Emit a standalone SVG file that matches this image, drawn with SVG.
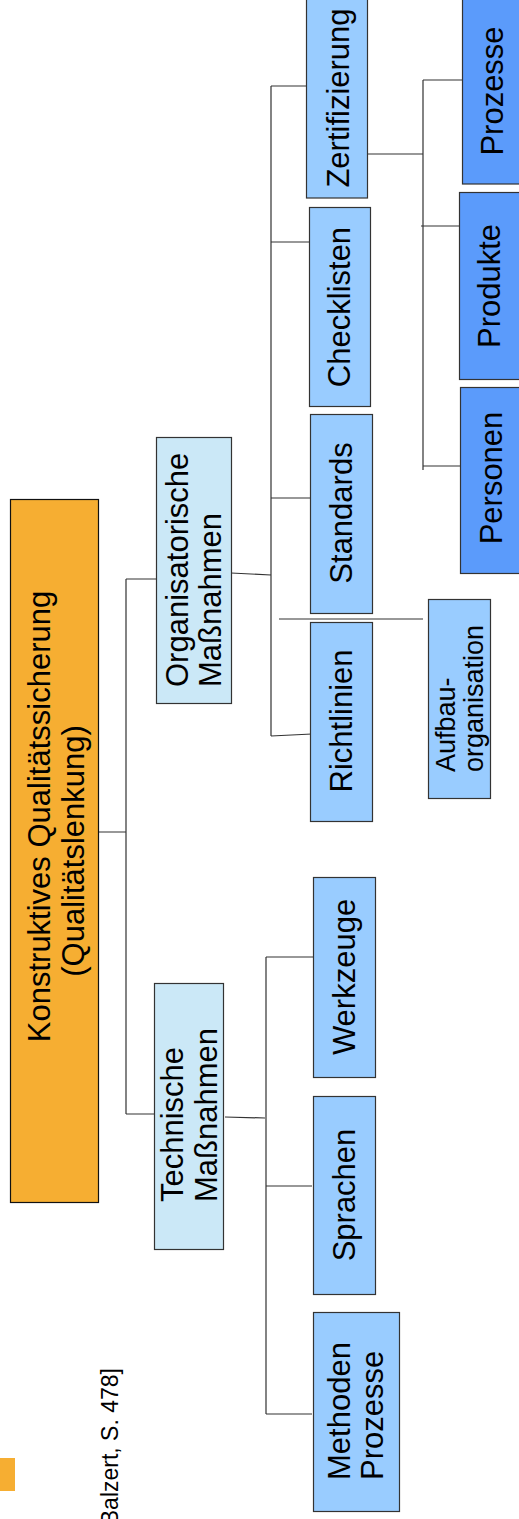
<svg xmlns="http://www.w3.org/2000/svg" width="519" height="1519" viewBox="0 0 519 1519">
<style>
.box{stroke:#333;stroke-width:1.2}
.root{fill:#F6AE32;stroke:#111;stroke-width:1.2}
.l2{fill:#CBE8F7}
.l3{fill:#99CCFF}
.l4{fill:#5B9BFB}
.t{font-family:"Liberation Sans",Arial,sans-serif;font-size:31px;fill:#000}
.s{font-size:27px}
.f{font-size:23px}
.m{text-anchor:middle}
.st{text-anchor:start}
.e{text-anchor:end}
.c{fill:none;stroke:#333;stroke-width:1.2}
</style>
<rect width="519" height="1519" fill="#fff"/>
<g id="connectors" class="c">
<path d="M83,832 H126 M126,579 V1114 M126,579 H156 M126,1114 H154"/>
<path d="M231,573 L271,575 M271,86 V736 M271,86 H306 M271,242 H309 M271,498 H310 M271,736 L312,734"/>
<path d="M279,619 H423"/>
<path d="M367,154 H423 M423,80 V470 M423,80 H462 M421,226 H459 M423,466 H460"/>
<path d="M225,1117 L265,1118 M266,957 V1414 M266,957 H313 M266,1186 H312 M266,1414 H312"/>
</g>
<g id="root">
<rect class="root" x="10.5" y="499.5" width="88" height="703"/>
<text class="t m" transform="translate(50,816.5) rotate(-90)">Konstruktives Qualitätssicherung</text>
<text class="t m" transform="translate(84,851) rotate(-90)">(Qualitätslenkung)</text>
</g>
<g id="org">
<rect class="box l2" x="156.5" y="437.5" width="75" height="266"/>
<text class="t st" transform="translate(188,687) rotate(-90)">Organisatorische</text>
<text class="t st" transform="translate(221,687) rotate(-90)">Maßnahmen</text>
</g>
<g id="tech">
<rect class="box l2" x="154.5" y="983.5" width="69" height="266"/>
<text class="t st" transform="translate(183,1202) rotate(-90)">Technische</text>
<text class="t st" transform="translate(217,1202) rotate(-90)">Maßnahmen</text>
</g>
<g id="zertifizierung">
<rect class="box l3" x="306.5" y="-2" width="61" height="200"/>
<text class="t m" transform="translate(349,98) rotate(-90)">Zertifizierung</text>
</g>
<g id="checklisten">
<rect class="box l3" x="309.5" y="207.5" width="61" height="199"/>
<text class="t m" transform="translate(350,307) rotate(-90)">Checklisten</text>
</g>
<g id="standards">
<rect class="box l3" x="310.5" y="414.5" width="62" height="199"/>
<text class="t m" transform="translate(352,513) rotate(-90)">Standards</text>
</g>
<g id="richtlinien">
<rect class="box l3" x="310.5" y="622.5" width="62" height="199"/>
<text class="t m" transform="translate(352,721) rotate(-90)">Richtlinien</text>
</g>
<g id="aufbauorganisation">
<rect class="box l3" x="428.5" y="599.5" width="62" height="199"/>
<text class="t s st" transform="translate(455,772) rotate(-90)">Aufbau-</text>
<text class="t s st" transform="translate(483,772) rotate(-90)">organisation</text>
</g>
<g id="prozesse">
<rect class="box l4" x="462.5" y="-2" width="60" height="186"/>
<text class="t m" transform="translate(503,91) rotate(-90)">Prozesse</text>
</g>
<g id="produkte">
<rect class="box l4" x="459.5" y="192.5" width="62" height="187"/>
<text class="t m" transform="translate(500,286) rotate(-90)">Produkte</text>
</g>
<g id="personen">
<rect class="box l4" x="460.5" y="387.5" width="62" height="186"/>
<text class="t m" transform="translate(502,478) rotate(-90)">Personen</text>
</g>
<g id="werkzeuge">
<rect class="box l3" x="313.5" y="877.5" width="62" height="200"/>
<text class="t m" transform="translate(355,977) rotate(-90)">Werkzeuge</text>
</g>
<g id="sprachen">
<rect class="box l3" x="313.5" y="1096.5" width="62" height="198"/>
<text class="t m" transform="translate(355,1195) rotate(-90)">Sprachen</text>
</g>
<g id="methoden">
<rect class="box l3" x="313.5" y="1312.5" width="86" height="199"/>
<text class="t st" transform="translate(350,1480) rotate(-90)">Methoden</text>
<text class="t st" transform="translate(383,1480) rotate(-90)">Prozesse</text>
</g>
<rect x="0" y="1458" width="15" height="33" fill="#F6AE32"/>
<text class="t f e" transform="translate(118,1368) rotate(-90)">[Balzert, S. 478]</text>
</svg>
